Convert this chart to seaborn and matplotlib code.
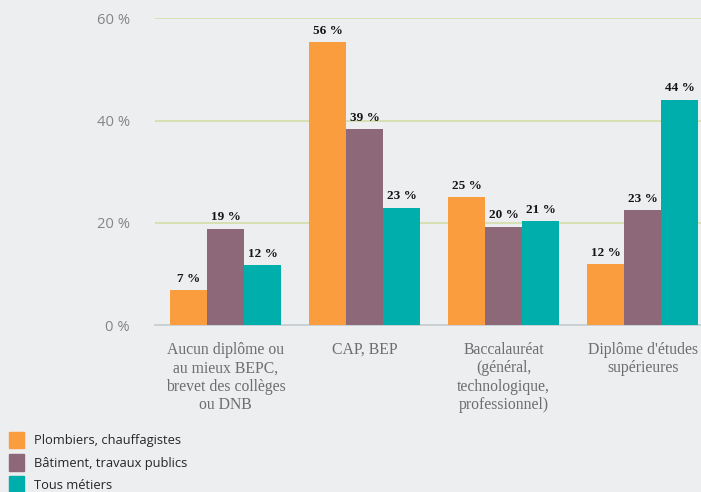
import seaborn as sns
import matplotlib.pyplot as plt
import pandas as pd

niveaux = ["Aucun diplôme ou\nau mieux BEPC,\nbrevet des collèges\nou DNB",
           "CAP, BEP",
           "Baccalauréat\n(général,\ntechnologique,\nprofessionnel)",
           "Diplôme d'études\nsupérieures"]
groupes = ["Plombiers, chauffagistes", "Bâtiment, travaux publics", "Tous métiers"]
plombiers = [6.8, 55.3, 25.0, 11.9]
batiment = [18.9, 38.3, 19.2, 22.5]
tous = [11.7, 22.9, 20.3, 44.1]
etiquettes = [["7 %", "56 %", "25 %", "12 %"],
              ["19 %", "39 %", "20 %", "23 %"],
              ["12 %", "23 %", "21 %", "44 %"]]
couleurs = ["#f99d3e", "#8c6878", "#00aeab"]
yticks = [0, 20, 40, 60]

rows = []
for g, vals in zip(groupes, [plombiers, batiment, tous]):
    for n, v in zip(niveaux, vals):
        rows.append({"niveau": n, "groupe": g, "part": v})
df = pd.DataFrame(rows)

sns.set_theme(style="white")
fig = plt.figure(figsize=(7.01, 4.92), dpi=100)
fig.patch.set_facecolor("#eceef0")
ax = fig.add_axes([0.221, 0.339, 0.779, 0.624])
ax.set_facecolor("#eceef0")

sns.barplot(data=df, x="niveau", y="part", hue="groupe", palette=couleurs,
            width=0.8, saturation=1, ax=ax, legend=False, zorder=3, linewidth=0)

for cont, labs in zip(ax.containers, etiquettes):
    ax.bar_label(cont, labels=labs, padding=4, fontsize=9.5,
                 family="Liberation Serif", fontweight="bold", color="#151515")

ax.set_ylim(0, 60)
ax.set_xlim(-0.51, 3.42)
ax.set_yticks(yticks)
ax.set_yticklabels([f"{t} %" for t in yticks], color="#858585", fontsize=10.6,
                   family="Open Sans")
ax.tick_params(axis="y", length=0, pad=18)
ax.tick_params(axis="x", length=0, pad=12)
for lab in ax.get_xticklabels():
    lab.set_family("Liberation Serif")
    lab.set_fontsize(11.3)
    lab.set_color("#6e6e6e")
    lab.set_linespacing(1.2)
ax.set_xlabel("")
ax.set_ylabel("")
for y in yticks[1:]:
    ax.axhline(y, color="#d3deaa", lw=1.2, zorder=1)
for s in ["top", "left", "right"]:
    ax.spines[s].set_visible(False)
ax.spines["bottom"].set_color("#c5cad0")
ax.spines["bottom"].set_linewidth(1.2)

handles = [plt.Rectangle((0, 0), 1, 1, color=c) for c in couleurs]
fig.legend(handles, groupes, loc="lower left", bbox_to_anchor=(0.013, -0.002),
           frameon=False, handlelength=1.15, handleheight=1.6,
           labelspacing=0.45, handletextpad=0.75, borderpad=0, borderaxespad=0,
           prop={"family": "Open Sans", "size": 9.3})

fig.savefig("out.png", dpi=100, facecolor=fig.get_facecolor())
